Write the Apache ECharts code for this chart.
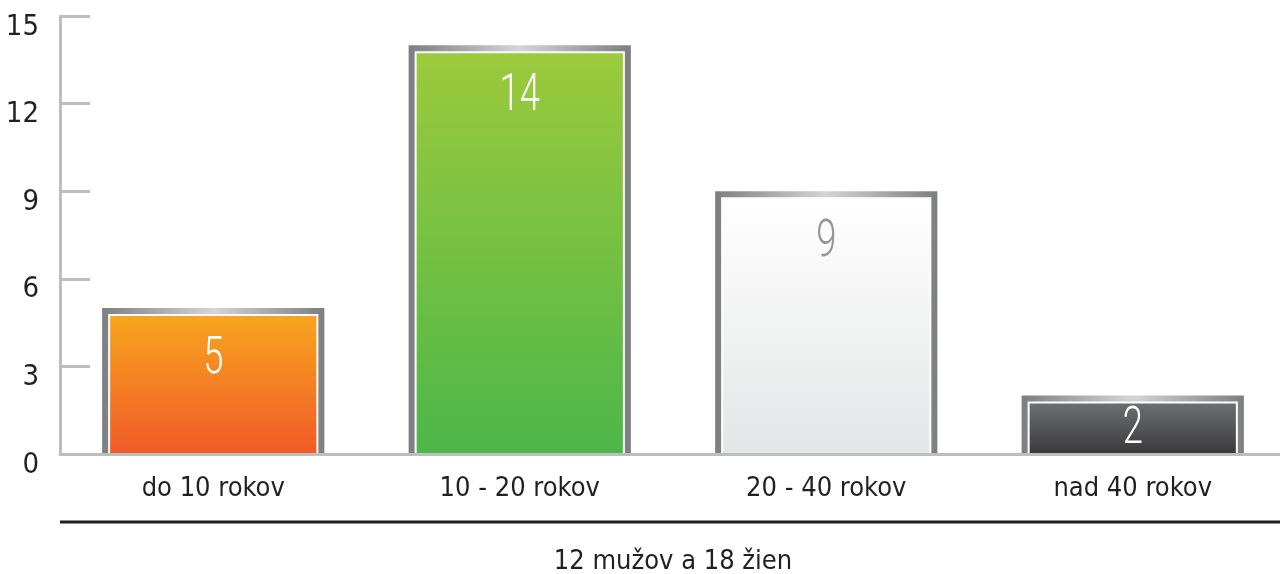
<!DOCTYPE html>
<html>
<head>
<meta charset="utf-8">
<style>
  html, body { margin: 0; padding: 0; background: #ffffff; }
  #chart { width: 1280px; height: 574px; }
</style>
<script src="https://cdn.jsdelivr.net/npm/echarts@6/dist/echarts.min.js"></script>
</head>
<body>
<div id="chart"></div>
<script>
// Age groups and number of people in each
const categories = ['do 10 rokov', '10 - 20 rokov', '20 - 40 rokov', 'nad 40 rokov'];
const counts = [5, 14, 9, 2];
const yTicks = [0, 3, 6, 9, 12, 15];
const footnote = '12 mužov a 18 žien';

// Bar fill gradients (top, bottom) and value label colours
const fillTop = ['#f7a51e', '#9cca3c', '#ffffff', '#6d6e71'];
const fillBottom = ['#f15a29', '#4cb748', '#e4e5e6', '#3a3a3c'];
const labelColor = ['#ffffff', '#ffffff', '#939598', '#ffffff'];

const axisGray = '#bcbec0';
const textDark = '#231f20';
const condensed = "'DejaVu Sans Condensed', 'Liberation Sans Narrow', Roboto, sans-serif";

const chart = echarts.init(document.getElementById('chart'));

function renderBar(params, api) {
  const i = api.value(0);
  const v = api.value(1);
  const top = api.coord([i, v]);
  const base = api.coord([i, 0]);
  const band = api.size([1, 0])[0];
  const w = band * 0.725;
  const x = top[0] - w / 2;
  const y = top[1];
  const h = base[1] - top[1];
  const frame = 6, gap = 2;
  const inset = frame + gap;
  const fillH = h - inset;
  // value text sits near the top, or centred in short bars
  const labelY = Math.min(y + 52, y + inset + fillH / 2 + 1);
  return {
    type: 'group',
    children: [
      {
        type: 'rect',
        shape: { x: x, y: y, width: w, height: h },
        style: {
          fill: new echarts.graphic.LinearGradient(0, 0, 1, 0, [
            { offset: 0, color: '#7d7e81' },
            { offset: 0.5, color: '#d4d5d7' },
            { offset: 1, color: '#7d7e81' }
          ])
        }
      },
      {
        type: 'rect',
        shape: { x: x + frame, y: y + frame, width: w - 2 * frame, height: h - frame },
        style: { fill: '#ffffff' }
      },
      {
        type: 'rect',
        shape: { x: x + inset, y: y + inset, width: w - 2 * inset, height: fillH },
        style: {
          fill: new echarts.graphic.LinearGradient(0, 0, 0, 1, [
            { offset: 0, color: fillTop[params.dataIndex] },
            { offset: 1, color: fillBottom[params.dataIndex] }
          ])
        }
      },
      {
        type: 'text',
        x: top[0],
        y: labelY,
        scaleX: 0.7,
        style: {
          text: String(v),
          fill: labelColor[params.dataIndex],
          font: "300 52px Roboto, 'DejaVu Sans', sans-serif",
          textAlign: 'center',
          textVerticalAlign: 'middle'
        }
      }
    ]
  };
}

chart.setOption({
  animation: false,
  grid: { left: 60, right: -6, top: 16, bottom: 120, outerBoundsMode: 'none', containLabel: false },
  xAxis: {
    type: 'category',
    data: categories,
    z: 5,
    axisLine: { lineStyle: { color: axisGray, width: 3 } },
    axisTick: { inside: true, length: 13, lineStyle: { color: axisGray, width: 2 } },
    axisLabel: { color: textDark, fontFamily: condensed, fontSize: 27, margin: 21 },
    name: footnote,
    nameLocation: 'middle',
    nameGap: 94,
    nameTextStyle: { color: textDark, fontFamily: condensed, fontSize: 27 }
  },
  yAxis: {
    type: 'value',
    min: yTicks[0],
    max: yTicks[yTicks.length - 1],
    interval: yTicks[1] - yTicks[0],
    z: 5,
    splitLine: { show: false },
    axisLine: { show: true, lineStyle: { color: axisGray, width: 3 } },
    axisTick: { show: true, inside: true, length: 30, lineStyle: { color: axisGray, width: 3 } },
    axisLabel: {
      color: textDark, fontFamily: condensed, fontSize: 29, margin: 21,
      verticalAlign: 'top', lineHeight: 22
    }
  },
  graphic: [
    {
      type: 'line',
      shape: { x1: 60, y1: 522, x2: 1280, y2: 522 },
      style: { stroke: textDark, lineWidth: 3 }
    }
  ],
  series: [
    {
      type: 'custom',
      renderItem: renderBar,
      encode: { x: 0, y: 1 },
      data: counts.map((c, i) => [i, c])
    }
  ]
});
</script>
</body>
</html>
